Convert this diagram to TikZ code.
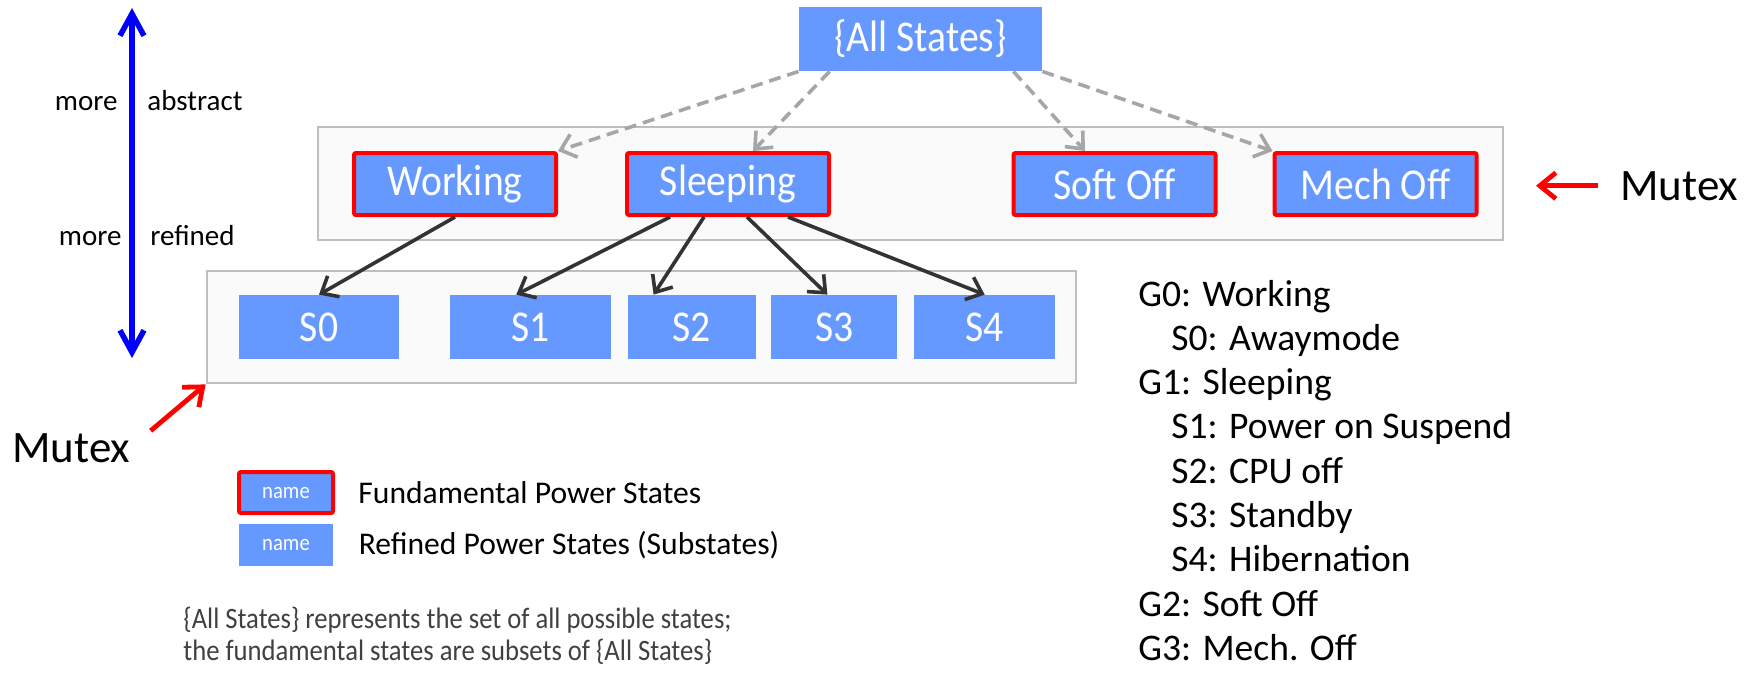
\documentclass[tikz,border=0pt]{standalone}
\usepackage{fontspec}
\setmainfont{Carlito}
\newfontfamily\narrowfont[FakeStretch=0.9]{Carlito}
\usepackage{xcolor}
\definecolor{STATECOLOR}{HTML}{6699FF}
\definecolor{FRAMEFILL}{HTML}{FAFAFA}
\definecolor{FRAMECOLOR}{HTML}{BFBFBF}
\definecolor{REFINECOLOR}{HTML}{333333}
\definecolor{ABSTRACTCOLOR}{HTML}{A6A6A6}
\definecolor{NOTECOLOR}{HTML}{404040}
\usepackage{tikz}
\usetikzlibrary{arrows.meta,positioning,fit,backgrounds}
\tikzset{
  state-style/.style = {
    rectangle, fill=STATECOLOR, text=white,
    font=\narrowfont\fontsize{22}{26}\selectfont,
    inner sep=0pt,
    minimum height=32pt
  },
  fund-style/.style = {
    state-style, draw=red, line width=2pt, rounded corners=1pt,
    minimum width=101pt,
    minimum height=31pt
  },
  sub-style/.style = {
    state-style,
    minimum width=#1
  },
  frame-style/.style = {
    rectangle, draw=FRAMECOLOR, line width=1pt, fill=FRAMEFILL, inner sep=0pt
  },
  refine-style/.style = {
    draw=REFINECOLOR, line width=1.8pt, -{Straight Barb[length=7pt,width=12pt]}
  },
  abstract-style/.style = {
    draw=ABSTRACTCOLOR, line width=1.8pt, dash pattern=on 6pt off 3.5pt,
    -{Straight Barb[length=7pt,width=12pt]}
  },
  mutex-style/.style = {
    draw=red, line width=2.4pt, -{Straight Barb[length=8pt,width=13pt]}
  },
  scale-style/.style = {
    draw=blue, line width=2.75pt,
    {Straight Barb[length=11pt,width=12pt]}-{Straight Barb[length=11pt,width=12pt]}
  },
  mutex-text/.style = {inner sep=0pt, font=\fontsize{22.5}{27}\selectfont},
  level-text/.style = {inner sep=0pt, font=\fontsize{14.5}{17}\selectfont},
  key-text/.style = {inner sep=0pt, font=\fontsize{15.8}{19}\selectfont},
  list-text/.style = {inner sep=0pt, font=\fontsize{18.8}{22}\selectfont},
  note-text/.style = {inner sep=0pt, text=NOTECOLOR, font=\narrowfont\fontsize{14.8}{18}\selectfont}
}

\begin{document}
\begin{tikzpicture}[x=0.5pt,y=-0.5pt]
    \useasboundingbox (0,0) rectangle (1760,676);

    %%% all states
    \node[state-style,minimum width=121.5pt] (allStates) at (920.5,39) {\{All States\}};

    %%% fundamental states
    \node[fund-style] (working) at (455,184) {Working};
    \node[fund-style,right=33.5pt of working] (sleeping) {Sleeping};
    \node[fund-style,right=90.25pt of sleeping] (softOff) {Soft Off};
    \node[fund-style,right=27.5pt of softOff] (mechOff) {Mech Off};
    \begin{pgfonlayer}{background}
      \node [frame-style,fit={([xshift=-17pt,yshift=12pt]working.north west) ([xshift=12.25pt,yshift=-11.5pt]mechOff.south east)}] (absFrame) {};
    \end{pgfonlayer}

    %%% substates
    \node[sub-style=80pt] (sZero) at (319,327) {S0};
    \node[sub-style=80.5pt,right=25pt of sZero] (sOne) {S1};
    \node[sub-style=64pt,right=8pt of sOne] (sTwo) {S2};
    \node[sub-style=63pt,right=7.5pt of sTwo] (sThree) {S3};
    \node[sub-style=70.5pt,right=8pt of sThree] (sFour) {S4};
    \begin{pgfonlayer}{background}
      \node [frame-style,fit={([xshift=-16pt,yshift=12pt]sZero.north west) ([xshift=10pt,yshift=-12pt]sFour.south east)}] (refFrame) {};
    \end{pgfonlayer}

    %%% scale
    \coordinate (refinedEnd) at (132,358);
    \coordinate (abstractEnd) at (132,8);
    \node[level-text,anchor=base east] (moreAbstract) at (118,110) {more};
    \node[level-text,base right=14.5pt of moreAbstract] (abstractLabel) {abstract};
    \node[level-text,anchor=base east] (moreRefined) at (122,245) {more};
    \node[level-text,base right=14pt of moreRefined] (refinedLabel) {refined};

    %%% mutex
    \node[mutex-text,anchor=base west] (mutexRight) at (1620,200) {Mutex};
    \node[mutex-text,anchor=base west] (mutexLeft) at (12,462) {Mutex};

    %%% legend
    \node[fund-style,minimum width=47pt,minimum height=20.5pt,font=\narrowfont\fontsize{11.5}{13}\selectfont] (keyFund) at (286,492.5) {name};
    \node[sub-style=47pt,minimum height=21pt,font=\narrowfont\fontsize{11.5}{13}\selectfont] (keyRef) at (286,545) {name};
    \node[key-text,right=11.5pt of keyFund] (fundText) {Fundamental Power States};
    \node[key-text,right=12.5pt of keyRef] (refText) {Refined Power States (Substates)};

    %%% note
    \node[note-text,anchor=base west] (noteOne) at (183,628) {\{All States\} represents the set of all possible states;};
    \node[note-text,anchor=base west] (noteTwo) at (183,660) {the fundamental states are subsets of \{All States\}};

    %%% state list
    \foreach \txt/\ind [count=\i from 0] in {G0: Working/0, S0: Awaymode/1, G1: Sleeping/0,
        S1: Power on Suspend/1, S2: CPU off/1, S3: Standby/1, S4: Hibernation/1,
        G2: Soft Off/0, G3: Mech. Off/0}
      \node[list-text,anchor=base west] (item\i) at ({1138+33*\ind},{306+44.3*\i}) {\txt};

    %%% arrows
    \path[abstract-style] (allStates.south west) -- (working.north east);
    \path[abstract-style] ([xshift=15.5pt]allStates.south west) -- ([xshift=12.5pt]sleeping.north);
    \path[abstract-style] ([xshift=-14.5pt]allStates.south east) -- ([xshift=-14.75pt]softOff.north);
    \path[abstract-style] (allStates.south east) -- (mechOff.north west);
    \path[refine-style] (working.south) -- (sZero.north);
    \path[refine-style] ([xshift=-29pt]sleeping.south) -- ([xshift=-7pt]sOne.north);
    \path[refine-style] ([xshift=-12pt]sleeping.south) -- ([xshift=-19pt]sTwo.north);
    \path[refine-style] ([xshift=9.5pt]sleeping.south) -- ([xshift=-3.5pt]sThree.north);
    \path[refine-style] ([xshift=30pt]sleeping.south) -- (sFour.north);
    \path[scale-style] (refinedEnd) -- (abstractEnd);
    \path[mutex-style] ([xshift=-11pt]mutexRight.west) -- ([xshift=16pt]absFrame.east |- mutexRight.west);
    \path[mutex-style] ([xshift=10pt,yshift=1pt]mutexLeft.north east) -- (refFrame.south west);
\end{tikzpicture}
\end{document}
